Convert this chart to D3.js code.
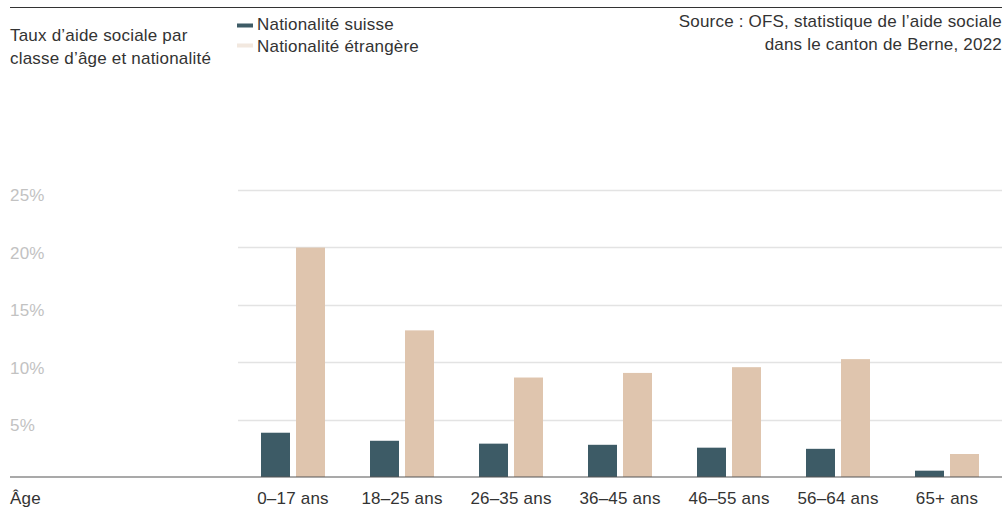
<!DOCTYPE html>
<html><head><meta charset="utf-8">
<script src="https://cdn.jsdelivr.net/npm/d3@7"></script>
<style>
html,body{margin:0;padding:0;background:#fff;}
svg{display:block;font-family:"Liberation Sans",Arial,sans-serif;}
svg text{letter-spacing:0.2px;}
</style></head>
<body>
<svg id="chart" width="1005" height="511"></svg>
<script>
const categories = ["0–17 ans","18–25 ans","26–35 ans","36–45 ans","46–55 ans","56–64 ans","65+ ans"];
const seriesNames = ["Nationalité suisse","Nationalité étrangère"];
const suisse = [3.85, 3.15, 2.9, 2.8, 2.55, 2.45, 0.55];
const etrangere = [19.95, 12.75, 8.65, 9.05, 9.55, 10.25, 2.0];
const yTicks = [5, 10, 15, 20, 25];
const colors = ["#3d5b66", "#dfc5ae"];
const legendColors = ["#3d5b66", "#f2e8df"];
const FS = 17;

const svg = d3.select("#chart");
const x = d3.scaleBand().domain(categories).range([238.5, 1001.5]);
const y = d3.scaleLinear().domain([0, 25]).range([477, 189.5]);

// top rule
svg.append("line").attr("x1",10).attr("x2",1002).attr("y1",7.5).attr("y2",7.5)
  .attr("stroke","#333").attr("stroke-width",1);

// gridlines
svg.append("g").selectAll("line").data(yTicks).join("line")
  .attr("x1",238).attr("x2",1002)
  .attr("y1",d=>Math.round(y(d))+0.5).attr("y2",d=>Math.round(y(d))+0.5)
  .attr("stroke","#e3e3e3").attr("stroke-width",1.5);
svg.append("g").selectAll("text").data(yTicks).join("text")
  .attr("x",10).attr("y",d=>y(d)+11.5)
  .attr("fill","#c2c2c2").attr("font-size",FS)
  .text(d=>d+"%");

// bars
const bw = 29, gap = 6;
const data = categories.map((c,i)=>({c, v:[suisse[i], etrangere[i]]}));
const g = svg.append("g");
data.forEach(d=>{
  const cx = x(d.c) + x.bandwidth()/2;
  d.v.forEach((v,j)=>{
    const x0 = j===0 ? cx - gap/2 - bw : cx + gap/2;
    g.append("rect").attr("x",x0).attr("width",bw)
      .attr("y",y(v)).attr("height",y(0)-y(v)).attr("fill",colors[j]);
  });
});

// baseline
svg.append("line").attr("x1",10).attr("x2",1002).attr("y1",477).attr("y2",477)
  .attr("stroke","#555").attr("stroke-width",1.2);

// x labels
const xAxis = d3.axisBottom(x).tickSize(0).tickPadding(0);
const ax = svg.append("g").attr("transform","translate(0,477)").call(xAxis);
ax.select(".domain").remove();
ax.selectAll("text").attr("font-size",FS).attr("fill","#333")
  .attr("font-family","Liberation Sans, Arial, sans-serif")
  .attr("dy",null).attr("y",27);
svg.append("text").attr("x",10).attr("y",504).attr("font-size",FS).attr("fill","#333").text("Âge");

// title
const title = svg.append("text").attr("x",10).attr("y",41).attr("font-size",FS).attr("fill","#333");
title.append("tspan").attr("x",10).text("Taux d’aide sociale par");
title.append("tspan").attr("x",10).attr("dy",23).text("classe d’âge et nationalité");

// legend
seriesNames.forEach((n,i)=>{
  svg.append("rect").attr("x",237).attr("y",23.5+i*20).attr("width",16).attr("height",4).attr("fill",legendColors[i]);
  svg.append("text").attr("x",257).attr("y",30+i*22).attr("font-size",FS).attr("fill","#333").text(n);
});

// source
const src = svg.append("text").attr("text-anchor","end").attr("font-size",FS).attr("fill","#333");
src.append("tspan").attr("x",1002).attr("y",26.5).text("Source : OFS, statistique de l’aide sociale");
src.append("tspan").attr("x",1002).attr("y",49.5).text("dans le canton de Berne, 2022");
</script>
</body></html>
